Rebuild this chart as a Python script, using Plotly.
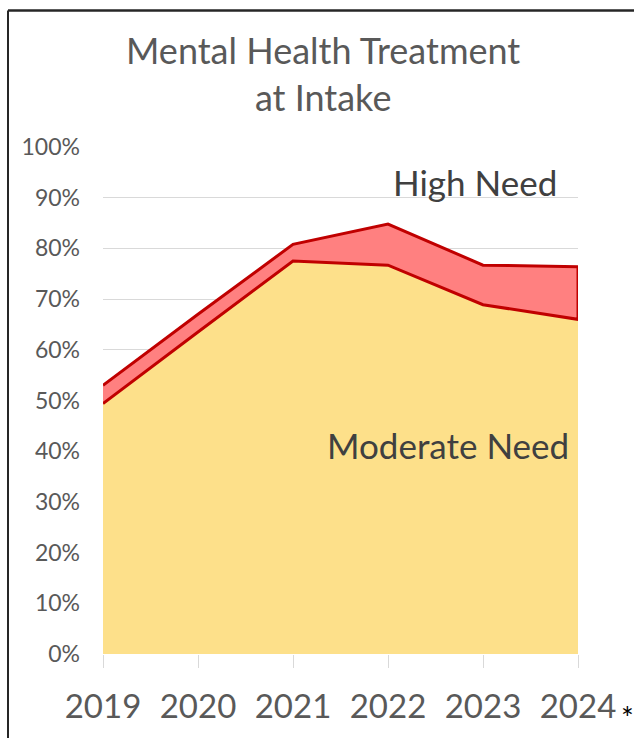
import plotly.graph_objects as go

years = [2019, 2020, 2021, 2022, 2023, 2024]
year_labels = ["2019", "2020", "2021", "2022", "2023", "2024"]
moderate_need = [0.494, 0.635, 0.775, 0.767, 0.689, 0.660]
high_need = [0.036, 0.035, 0.033, 0.081, 0.078, 0.104]

total = [m + h for m, h in zip(moderate_need, high_need)]

FONT = "Lato"
GREY = "#595959"

fig = go.Figure()

# moderate need area
fig.add_trace(go.Scatter(
    x=years, y=moderate_need,
    fill="tozeroy", fillcolor="#FDE08A",
    mode="lines", line=dict(width=0),
    hoverinfo="skip", showlegend=False))

# high need band drawn as a closed polygon so it gets an outline all round
fig.add_trace(go.Scatter(
    x=years + years[::-1],
    y=total + moderate_need[::-1],
    fill="toself", fillcolor="#FF8080",
    mode="lines", line=dict(color="#C00000", width=3),
    hoverinfo="skip", showlegend=False))

fig.update_layout(
    width=634, height=738,
    margin=dict(l=103, r=56, t=147, b=84),
    paper_bgcolor="white", plot_bgcolor="white",
    font=dict(family=FONT, color=GREY),
    xaxis=dict(range=[2019, 2024], tickmode="array", tickvals=years, ticktext=year_labels,
               showgrid=False, zeroline=False, showline=False,
               ticks="outside", ticklen=13, tickcolor="#D9D9D9", tickwidth=1,
               tickfont=dict(size=33, color=GREY), ticklabelstandoff=10),
    yaxis=dict(range=[0, 1], dtick=0.1, tickformat=".0%",
               showgrid=True, gridcolor="#D9D9D9", gridwidth=1,
               zeroline=False, showline=False,
               tickfont=dict(size=23, color=GREY), ticklabelstandoff=22),
    annotations=[
        # title as an annotation, plotly's multi-line title anchoring is awkward
        dict(text="Mental Health Treatment<br>at Intake", x=0.463, y=1.144,
             xref="paper", yref="paper", yanchor="middle",
             showarrow=False, font=dict(size=36, color=GREY, family=FONT)),
        dict(text="High Need", x=2022.92, y=0.931, xref="x", yref="y",
             showarrow=False, font=dict(size=35, color="#404040", family=FONT)),
        dict(text="Moderate Need", x=2022.63, y=0.412, xref="x", yref="y",
             showarrow=False, font=dict(size=35, color="#404040", family=FONT)),
        dict(text="*", x=1.086, y=-0.125, xref="paper", yref="paper",
             xanchor="left", yanchor="middle",
             showarrow=False, font=dict(size=30, color="black", family=FONT)),
    ],
)

# outer frame (only left and top edges fall inside the picture)
fig.add_shape(type="line", xref="paper", yref="paper",
              x0=-0.2, x1=-0.2, y0=-0.2, y1=1.269,
              line=dict(color="#262626", width=2))
fig.add_shape(type="line", xref="paper", yref="paper",
              x0=-0.2, x1=1.118, y0=1.269, y1=1.269,
              line=dict(color="#262626", width=2.5))

fig.write_html("out.html", config={"displayModeBar": False},
               post_script="document.body.style.margin='0';")
